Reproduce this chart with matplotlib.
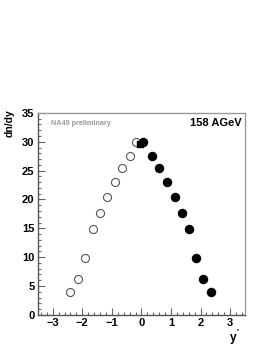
import matplotlib
matplotlib.use("Agg")
import matplotlib.pyplot as plt
from matplotlib.ticker import MultipleLocator

plt.rcParams["font.family"] = ["Liberation Sans", "DejaVu Sans"]
plt.rcParams["font.weight"] = "bold"

# measured (open) and reflected (filled) points
y_open = [-2.41, -2.15, -1.91, -1.65, -1.40, -1.16, -0.90, -0.64, -0.40, -0.17]
dn_open = [4.0, 6.2, 9.8, 14.8, 17.6, 20.5, 23.1, 25.4, 27.6, 30.0]
y_fill = [0.07, 0.36, 0.61, 0.87, 1.12, 1.37, 1.62, 1.86, 2.10, 2.36]
dn_fill = [30.0, 27.6, 25.4, 23.1, 20.5, 17.6, 14.8, 9.8, 6.2, 4.0]
y_sq = [-0.06]
dn_sq = [29.6]

fig = plt.figure(figsize=(2.73, 3.53), dpi=100)
ax = fig.add_axes([0.139, 0.108, 0.758, 0.572])

ax.plot(y_open, dn_open, "o", ms=5.8, mfc="white", mec="#555555", mew=0.8, zorder=3)
ax.plot(y_sq, dn_sq, "s", ms=5.0, color="black", zorder=4)
ax.plot(y_fill, dn_fill, "o", ms=5.8, color="black", mec="black", zorder=5)

ax.set_xlim(-3.5, 3.5)
ax.set_ylim(0, 35)
ax.xaxis.set_major_locator(MultipleLocator(1))
ax.xaxis.set_minor_locator(MultipleLocator(0.2))
ax.yaxis.set_major_locator(MultipleLocator(5))
ax.yaxis.set_minor_locator(MultipleLocator(1))
ax.tick_params(which="both", direction="in", color="#666666", width=0.8,
               top=False, right=False)
ax.tick_params(which="major", length=5, labelsize=8, pad=2.5)
ax.tick_params(which="minor", length=2.5)

for s in ["left", "bottom"]:
    ax.spines[s].set_color("#555555")
for s in ["top", "right"]:
    ax.spines[s].set_color("#999999")
for s in ax.spines.values():
    s.set_linewidth(1.0)

ax.text(0.985, 0.975, "158 AGeV", transform=ax.transAxes, ha="right", va="top",
        fontsize=8, fontweight="bold")
ax.text(0.065, 0.963, "NA49 preliminary", transform=ax.transAxes, ha="left", va="top",
        fontsize=5.2, fontweight="bold", color="#999999")

fig.text(0.036, 0.69, "dn/dy", rotation=90, ha="center", va="top",
         fontsize=7.5, fontweight="bold")
fig.text(0.855, 0.043, "y", ha="center", va="center",
         fontsize=8.5, fontweight="bold")
fig.text(0.872, 0.060, "*", ha="center", va="center",
         fontsize=3.5, fontweight="bold")

fig.savefig("out.png", dpi=100, facecolor="white")
